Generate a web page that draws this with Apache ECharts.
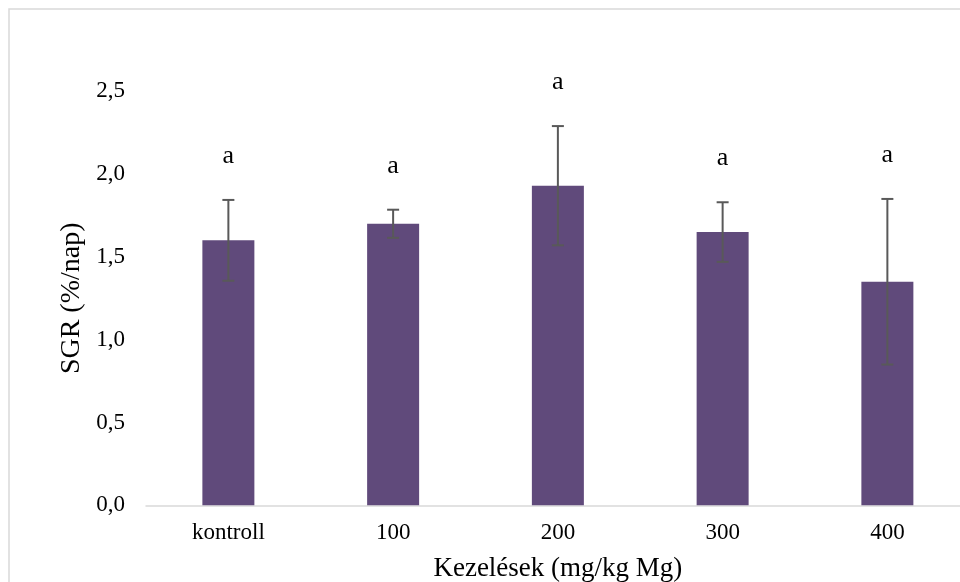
<!DOCTYPE html>
<html>
<head>
<meta charset="utf-8">
<script src="https://cdn.jsdelivr.net/npm/echarts@6/dist/echarts.min.js"></script>
<style>
  html, body { margin: 0; padding: 0; background: #fff; }
  #chart { width: 960px; height: 582px; }
</style>
</head>
<body>
<div id="chart"></div>
<script>
// Treatments (mg/kg Mg) and specific growth rate, mean ± SD
const categories = ['kontroll', '100', '200', '300', '400'];
const sgrMean = [1.60, 1.70, 1.93, 1.65, 1.35];
const sgrSd = [0.244, 0.085, 0.36, 0.18, 0.50];
const groupLetters = ['a', 'a', 'a', 'a', 'a'];
const yTicks = [0, 0.5, 1.0, 1.5, 2.0, 2.5];

const serif = '"Liberation Serif", "Times New Roman", serif';
const chart = echarts.init(document.getElementById('chart'), null, { renderer: 'canvas' });

const errData = categories.map((c, i) => [i, sgrMean[i], sgrSd[i], groupLetters[i]]);

// Error bar with caps, plus the significance letter above it
function renderError(params, api) {
  const i = api.value(0);
  const m = api.value(1);
  const sd = api.value(2);
  const top = api.coord([i, m + sd]);
  const bot = api.coord([i, m - sd]);
  const cap = 6;
  const st = { stroke: '#595959', lineWidth: 2 };
  return {
    type: 'group',
    children: [
      { type: 'line', shape: { x1: top[0], y1: top[1], x2: bot[0], y2: bot[1] }, style: st },
      { type: 'line', shape: { x1: top[0] - cap, y1: top[1], x2: top[0] + cap, y2: top[1] }, style: st },
      { type: 'line', shape: { x1: bot[0] - cap, y1: bot[1], x2: bot[0] + cap, y2: bot[1] }, style: st },
      {
        type: 'text',
        style: {
          x: top[0], y: top[1] - 44,
          text: api.value(3),
          font: '26px ' + serif,
          fill: '#000',
          align: 'center',
          verticalAlign: 'middle'
        }
      }
    ]
  };
}

chart.setOption({
  animation: false,
  backgroundColor: '#fff',
  graphic: [{
    type: 'rect',
    shape: { x: 9, y: 9, width: 1000, height: 620 },
    style: { fill: 'none', stroke: '#d9d9d9', lineWidth: 1.5 },
    silent: true,
    z: -1
  }],
  grid: {
    left: 146, top: 91.3, width: 823.75, height: 414,
    containLabel: false,
    outerBoundsMode: 'none'
  },
  xAxis: {
    type: 'category',
    data: categories,
    name: 'Kezelések (mg/kg Mg)',
    nameLocation: 'middle',
    nameGap: 50,
    nameTextStyle: { fontFamily: serif, fontSize: 27, color: '#000' },
    axisLine: { lineStyle: { color: '#d9d9d9', width: 1.5 } },
    axisTick: { show: false },
    axisLabel: { fontFamily: serif, fontSize: 23, color: '#000', margin: 16 }
  },
  yAxis: {
    type: 'value',
    min: 0,
    max: 2.5,
    interval: 0.5,
    name: 'SGR (%/nap)',
    nameLocation: 'middle',
    nameGap: 60,
    nameTextStyle: { fontFamily: serif, fontSize: 28, color: '#000' },
    axisLine: { show: false },
    axisTick: { show: false },
    splitLine: { show: false },
    axisLabel: {
      fontFamily: serif, fontSize: 23, color: '#000', margin: 21,
      formatter: v => yTicks.includes(v) ? v.toFixed(1).replace('.', ',') : ''
    }
  },
  series: [
    {
      type: 'bar',
      data: sgrMean,
      barWidth: 52,
      itemStyle: { color: '#604a7b' }
    },
    {
      type: 'custom',
      data: errData,
      renderItem: renderError,
      clip: false,
      z: 5
    }
  ]
});
</script>
</body>
</html>
